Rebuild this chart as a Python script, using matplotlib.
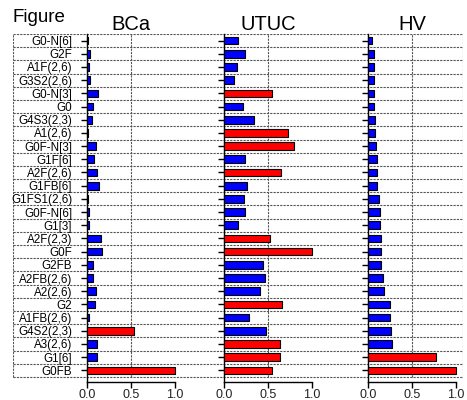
import matplotlib
matplotlib.use("Agg")
import matplotlib.pyplot as plt
import numpy as np

plt.rcParams['font.family'] = ['Liberation Sans', 'DejaVu Sans']

# Glycan features, listed top to bottom
features = [
    "G0-N[6]", "G2F", "A1F(2,6)", "G3S2(2,6)", "G0-N[3]", "G0", "G4S3(2,3)",
    "A1(2,6)", "G0F-N[3]", "G1F[6]", "A2F(2,6)", "G1FB[6]", "G1FS1(2,6)",
    "G0F-N[6]", "G1[3]", "A2F(2,3)", "G0F", "G2FB", "A2FB(2,6)", "A2(2,6)",
    "G2", "A1FB(2,6)", "G4S2(2,3)", "A3(2,6)", "G1[6]", "G0FB",
]

# Relative importance per cohort (same order as features)
bca = [0.004, 0.03, 0.025, 0.035, 0.12, 0.06, 0.05, 0.004, 0.095, 0.075,
       0.115, 0.13, 0.004, 0.025, 0.02, 0.155, 0.165, 0.06, 0.07, 0.10,
       0.085, 0.02, 0.53, 0.11, 0.115, 1.0]
utuc = [0.156, 0.236, 0.144, 0.114, 0.548, 0.209, 0.338, 0.722, 0.795, 0.232,
        0.65, 0.255, 0.22, 0.24, 0.152, 0.52, 1.0, 0.44, 0.464, 0.41,
        0.658, 0.285, 0.475, 0.631, 0.639, 0.54]
hv = [0.042, 0.061, 0.061, 0.061, 0.065, 0.069, 0.076, 0.08, 0.084, 0.095,
      0.099, 0.103, 0.118, 0.134, 0.137, 0.141, 0.141, 0.145, 0.172, 0.183,
      0.248, 0.248, 0.256, 0.271, 0.775, 1.0]

# Highlighted (red) features per cohort
bca_hi = ["G4S2(2,3)", "G0FB"]
utuc_hi = ["G0-N[3]", "A1(2,6)", "G0F-N[3]", "A2F(2,6)", "A2F(2,3)", "G0F",
           "G2", "A3(2,6)", "G1[6]", "G0FB"]
hv_hi = ["G1[6]", "G0FB"]

titles = ["BCa", "UTUC", "HV"]
xticks = [0.0, 0.5, 1.0]
xticklabels = ["0.0", "0.5", "1.0"]

W, H = 467, 400
fig = plt.figure(figsize=(W / 100, H / 100), dpi=100)

n = len(features)
ypos = np.arange(n, 0, -1)          # first feature on top
row_px = 13.19
top_px, axis_px = 34, 382
ylim = (n + 0.5 - (axis_px - top_px) / row_px, n + 0.5)
bottom_f = 1 - axis_px / H
height_f = (axis_px - top_px) / H

grid_kw = dict(color="#555555", lw=0.8, ls=(0, (2, 1)))

# Background table of dashed row boxes
left_px, right_px = 12.7, 463
bg = fig.add_axes([left_px / W, bottom_f, (right_px - left_px) / W, height_f])
bg.set_xlim(0, 1)
bg.set_ylim(*ylim)
bg.axis("off")
for y in np.arange(0.5, n + 1, 1.0):
    bg.axhline(y, **grid_kw)
frac0 = (0.5 - ylim[0]) / (ylim[1] - ylim[0])
bg.axvline(0, ymin=frac0, ymax=1, **grid_kw)
bg.axvline(1, ymin=frac0, ymax=1, **grid_kw)

unit_px = 87.7
panel_left = [87.3, 224.3, 368.3]
series = [bca, utuc, hv]
highlights = [bca_hi, utuc_hi, hv_hi]

for i, (vals, hi, title) in enumerate(zip(series, highlights, titles)):
    ax = fig.add_axes([panel_left[i] / W, bottom_f, unit_px / W, height_f])
    ax.patch.set_alpha(0)
    colors = ["#ff0000" if f in hi else "#0000ff" for f in features]
    ax.barh(ypos, vals, height=0.58, color=colors, edgecolor="black",
            linewidth=0.8, zorder=3, clip_on=False)
    ax.axvline(0.5, ymin=frac0, ymax=1, zorder=1, **grid_kw)
    ax.set_xlim(0, 1)
    ax.set_ylim(*ylim)
    ax.set_xticks(xticks)
    ax.set_xticklabels(xticklabels, fontsize=9, color="#222222")
    ax.set_yticks(ypos)
    if i == 0:
        ax.set_yticklabels(features, fontsize=8.4)
    else:
        ax.set_yticklabels([])
    ax.tick_params(axis="y", direction="out", length=4, width=1, pad=7)
    ax.tick_params(axis="x", direction="out", length=4, width=1, pad=1.2)
    for s in ("top", "right"):
        ax.spines[s].set_visible(False)
    for s in ("left", "bottom"):
        ax.spines[s].set_linewidth(1.0)
    ax.set_title(title, fontsize=14.5, pad=3)

fig.text(12 / W, 1 - 22 / H, "Figure", fontsize=13.5, va="baseline", ha="left")

fig.savefig("out.png", dpi=100)
